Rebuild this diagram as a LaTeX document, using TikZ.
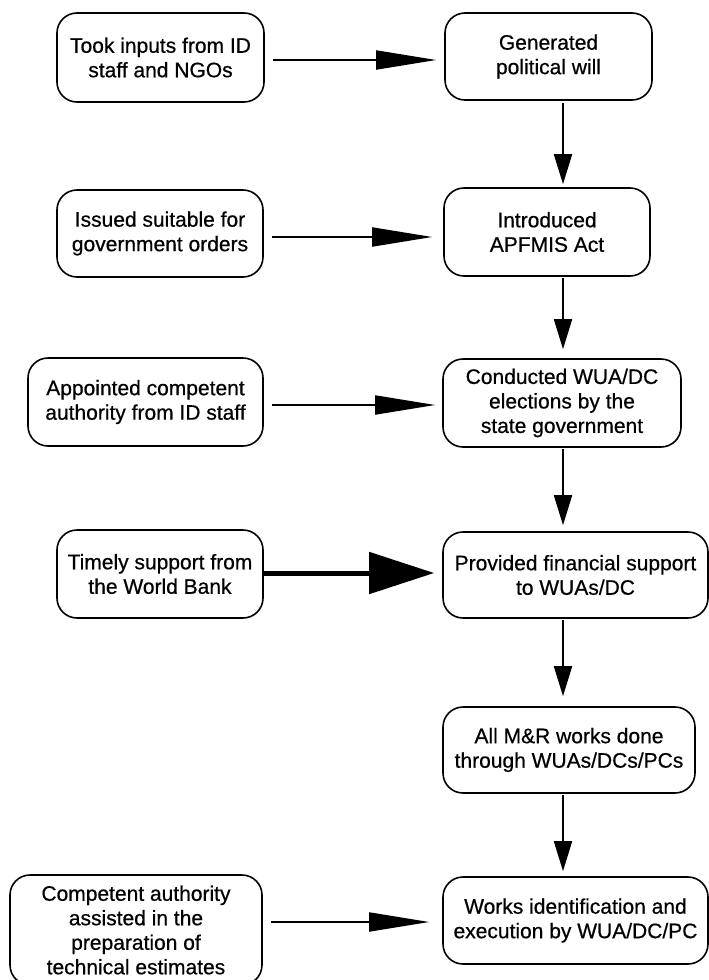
\documentclass[tikz,border=0pt]{standalone}
\usepackage{fontspec}
\setmainfont{Liberation Sans}
\newfontfamily\boxfont{Liberation Sans}[FakeBold=0.6]
\usetikzlibrary{arrows.meta}
\begin{document}
\begin{tikzpicture}[x=1pt,y=-1pt,
  box/.style={draw, line width=1.6pt, rounded corners=20pt, align=center,
    inner sep=0pt, font=\boxfont\fontsize{21}{24.5}\selectfont},
  link/.style={line width=1.8pt, -{Triangle[length=60pt,width=19pt]}},
  drop/.style={line width=1.8pt, -{Triangle[length=30pt,width=18pt]}},
  boldlink/.style={line width=5pt, -{Triangle[length=65pt,width=41pt]}}]

\fill[white] (0,0) rectangle (709,980);
\useasboundingbox (0,0) rectangle (709,980);

% left column: enabling actions
\node[box, minimum width=207pt, minimum height=89pt] (L1) at (160.5,57.5) {Took inputs from ID\\staff and NGOs};
\node[box, minimum width=206pt, minimum height=87pt] (L2) at (160,233.5) {Issued suitable for\\government orders};
\node[box, minimum width=235pt, minimum height=88pt] (L3) at (145.5,402) {Appointed competent\\authority from ID staff};
\node[box, minimum width=206pt, minimum height=88pt] (L4) at (160,574) {Timely support from\\the World Bank};
\node[box, minimum width=252pt, minimum height=110pt] (L5) at (136,930) {Competent authority\\assisted in the\\preparation of\\technical estimates};

% right column: main sequence
\node[box, minimum width=207pt, minimum height=87pt] (R1) at (548.5,56.5) {Generated\\political will};
\node[box, minimum width=206pt, minimum height=88pt] (R2) at (547,232) {Introduced\\APFMIS Act};
\node[box, minimum width=238pt, minimum height=88pt] (R3) at (562,403) {Conducted WUA/DC\\elections by the\\state government};
\node[box, minimum width=265pt, minimum height=86pt] (R4) at (575.5,575) {Provided financial support\\to WUAs/DC};
\node[box, minimum width=252pt, minimum height=86pt] (R5) at (569,750) {All M\&R works done\\through WUAs/DCs/PCs};
\node[box, minimum width=265pt, minimum height=87pt] (R6) at (575.5,920.5) {Works identification and\\execution by WUA/DC/PC};

% horizontal links
\draw[link, shorten <=8pt, shorten >=8pt] ([yshift=-3.5pt]L1.east |- R1.west) -- ([yshift=-3.5pt]R1.west);
\draw[link, shorten <=8pt, shorten >=11pt] ([yshift=-5pt]L2.east |- R2.west) -- ([yshift=-5pt]R2.west);
\draw[link, shorten <=8pt, shorten >=7pt] ([yshift=-2pt]L3.east |- R3.west) -- ([yshift=-2pt]R3.west);
\draw[boldlink, shorten >=8pt] ([yshift=2pt]L4.east |- R4.west) -- ([yshift=2pt]R4.west);
\draw[link, shorten <=8pt, shorten >=13pt] ([yshift=-1.5pt]L5.east |- R6.west) -- ([yshift=-1.5pt]R6.west);

% vertical links
\coordinate (col) at (563,0);
\draw[drop, shorten <=2pt, shorten >=3pt] (R1.south -| col) -- (R2.north -| col);
\draw[drop, shorten <=1pt, shorten >=9pt] (R2.south -| col) -- (R3.north -| col);
\draw[drop, shorten <=1pt, shorten >=6pt] (R3.south -| col) -- (R4.north -| col);
\draw[drop, shorten <=1pt, shorten >=10pt] (R4.south -| col) -- (R5.north -| col);
\draw[drop, shorten <=1pt, shorten >=5pt] (R5.south -| col) -- (R6.north -| col);
\end{tikzpicture}
\end{document}
